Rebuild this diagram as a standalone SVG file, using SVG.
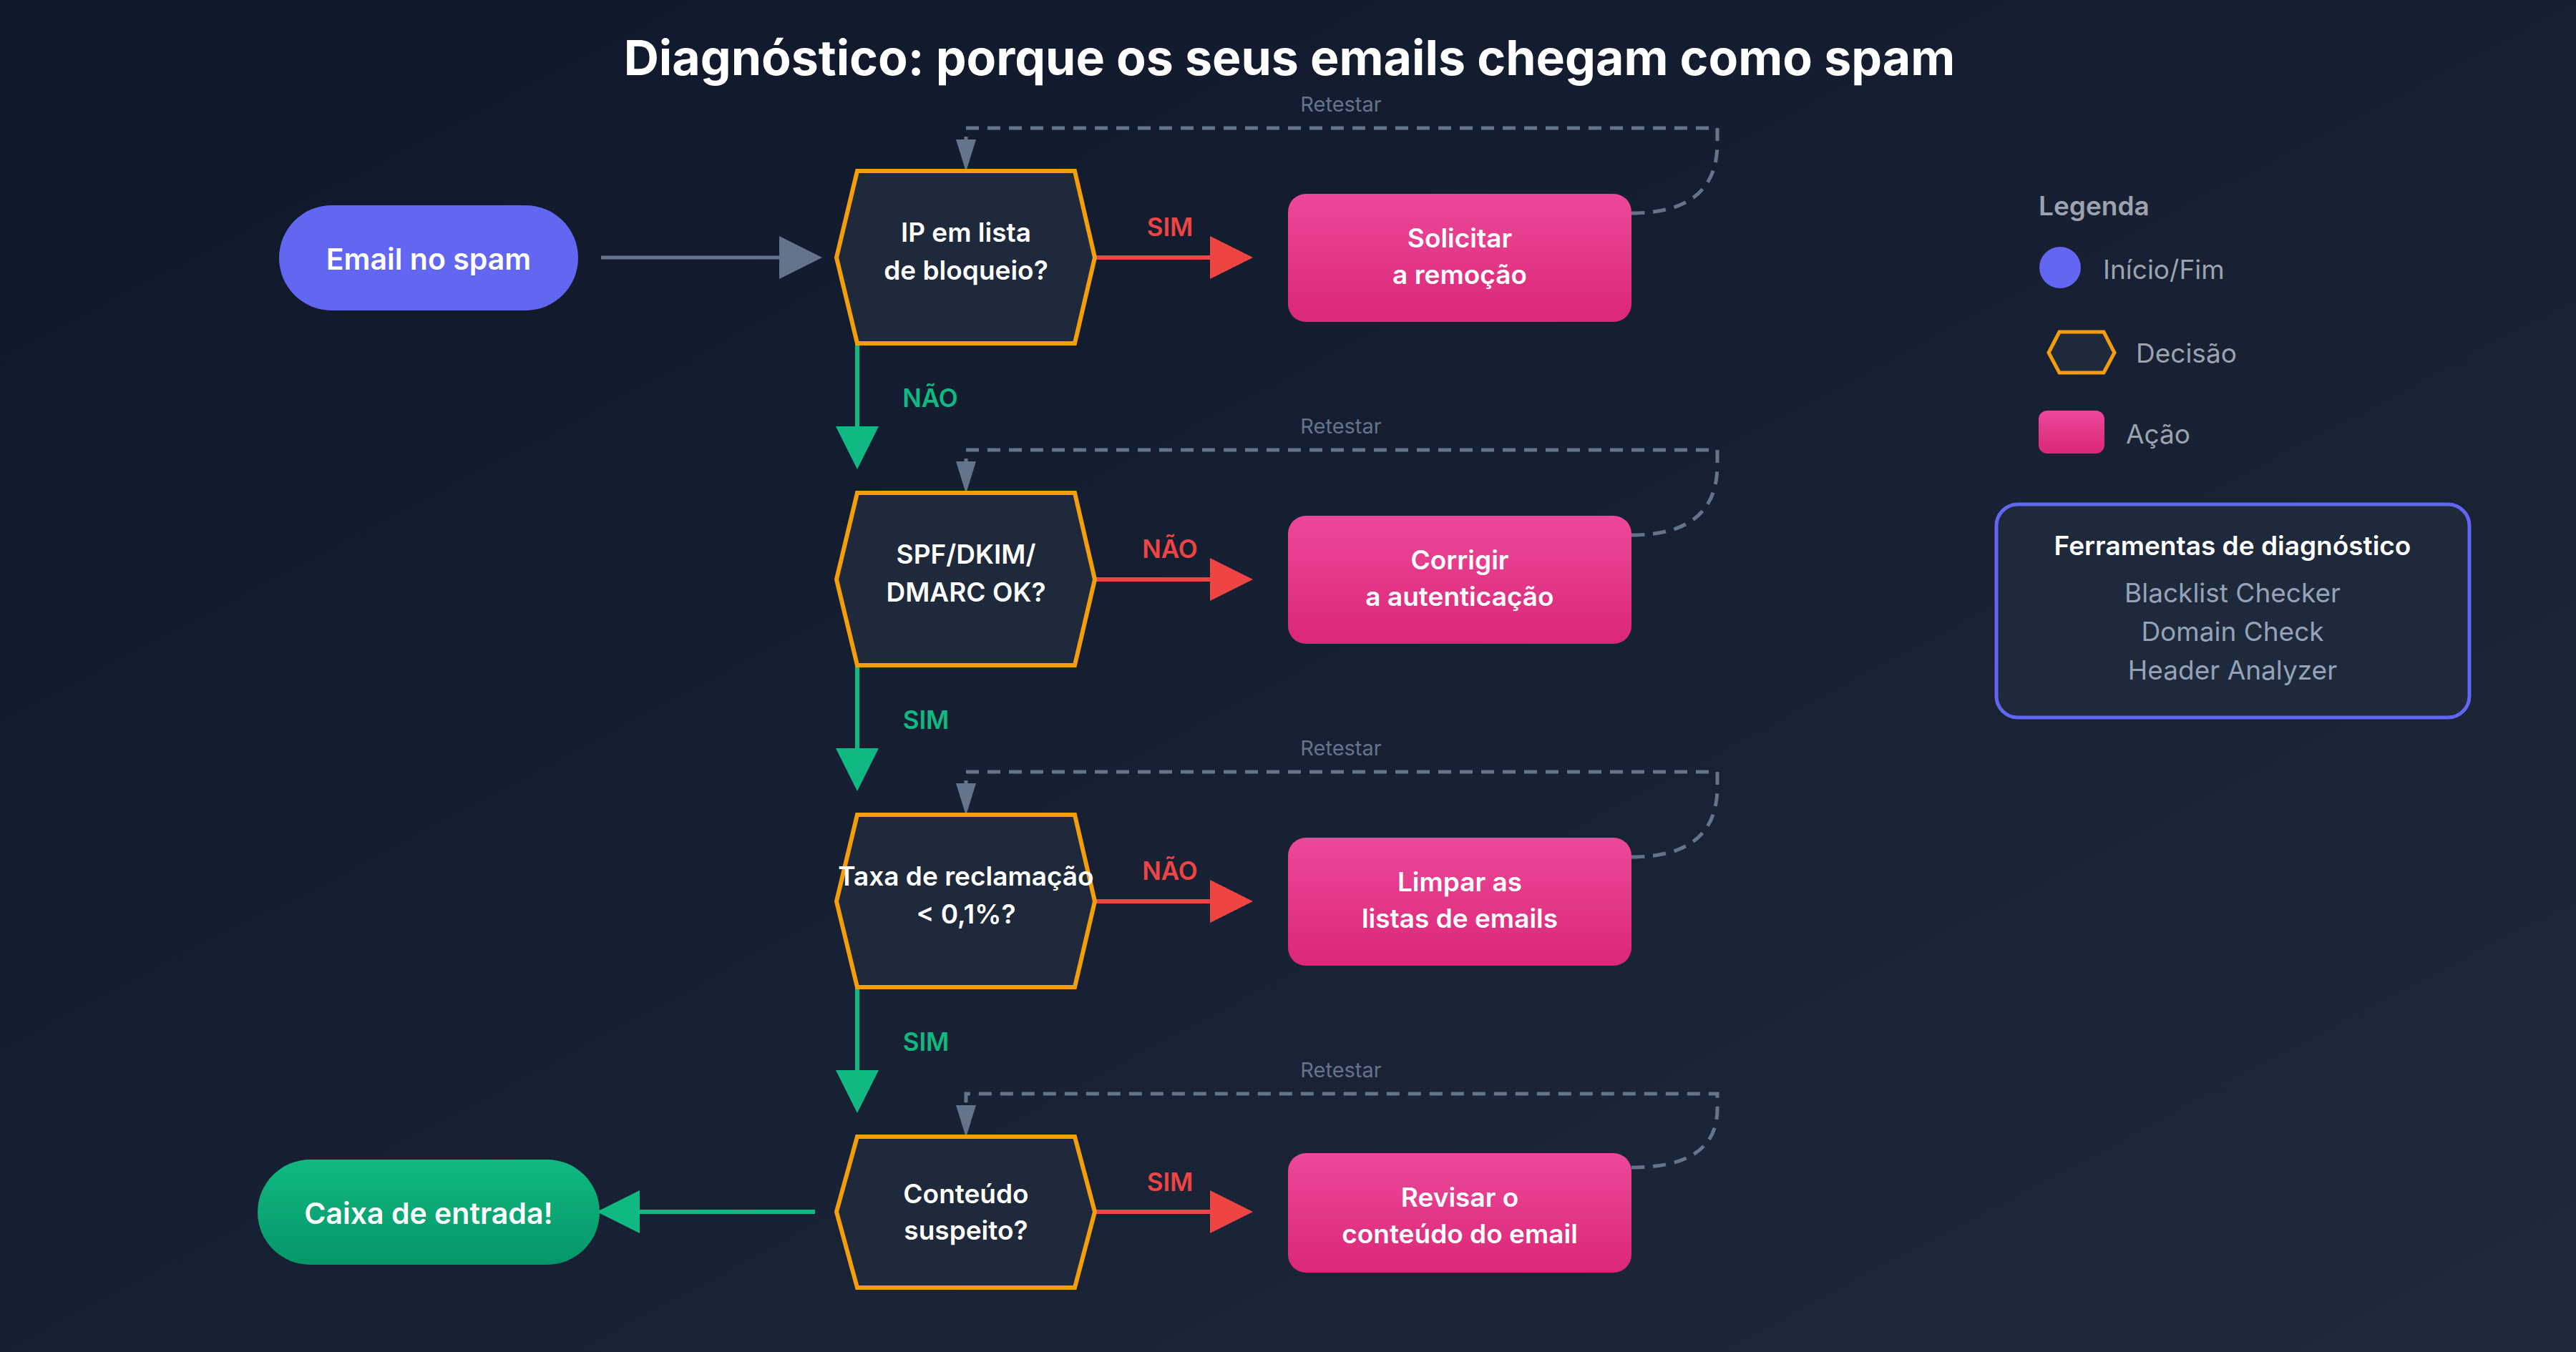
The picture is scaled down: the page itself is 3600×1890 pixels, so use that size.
<svg xmlns="http://www.w3.org/2000/svg" width="3600" height="1890" viewBox="0 0 3600 1890">
<defs>
<linearGradient id="bg" x1="0" y1="0" x2="1" y2="1"><stop offset="0" stop-color="#0f172a"/><stop offset="1" stop-color="#1e293b"/></linearGradient>
<linearGradient id="pink" x1="0" y1="0" x2="0" y2="1"><stop offset="0" stop-color="#ec4899"/><stop offset="1" stop-color="#db2777"/></linearGradient>
<linearGradient id="green" x1="0" y1="0" x2="0" y2="1"><stop offset="0" stop-color="#10b981"/><stop offset="1" stop-color="#059669"/></linearGradient>
<marker id="aGray" viewBox="0 0 10 10" refX="9" refY="5" markerWidth="6" markerHeight="6" markerUnits="userSpaceOnUse" orient="auto"><path d="M0,0 L10,5 L0,10 z" fill="#64748b"/></marker>
<marker id="aRed" viewBox="0 0 10 10" refX="9" refY="5" markerWidth="60" markerHeight="60" markerUnits="userSpaceOnUse" orient="auto"><path d="M0,0 L10,5 L0,10 z" fill="#ef4444"/></marker>
<marker id="aGreen" viewBox="0 0 10 10" refX="9" refY="5" markerWidth="60" markerHeight="60" markerUnits="userSpaceOnUse" orient="auto"><path d="M0,0 L10,5 L0,10 z" fill="#10b981"/></marker>
<marker id="aG2" viewBox="0 0 10 10" refX="9" refY="5" markerWidth="60" markerHeight="60" markerUnits="userSpaceOnUse" orient="auto"><path d="M0,0 L10,5 L0,10 z" fill="#64748b"/></marker>
</defs>
<style>
text{font-family:Inter,"Liberation Sans",sans-serif;text-anchor:middle;dominant-baseline:central}
.t{fill:#fff;font-weight:600;font-size:37px}
.hex{fill:#1e293b;stroke:#f59e0b;stroke-width:6}
.act{fill:url(#pink)}
.lr{fill:#ef4444;font-weight:600;font-size:35px}
.lg{fill:#10b981;font-weight:600;font-size:35px}
.rt{fill:#64748b;font-size:29px}
.dash{fill:none;stroke:#64748b;stroke-width:5;stroke-dasharray:18 12}
.leg{fill:#9ca3af;font-size:37px;text-anchor:start}
</style>
<rect width="3600" height="1890" fill="url(#bg)"/>
<text x="1802" y="80" style="fill:#fff;font-weight:700;font-size:68px">Diagnóstico: porque os seus emails chegam como spam</text>

<g id="connectors">
<line x1="840" y1="360" x2="1143" y2="360" stroke="#64748b" stroke-width="5" marker-end="url(#aG2)"/>
<g stroke="#ef4444" stroke-width="6">
<line x1="1530" y1="360" x2="1745" y2="360" marker-end="url(#aRed)"/>
<line x1="1530" y1="810" x2="1745" y2="810" marker-end="url(#aRed)"/>
<line x1="1530" y1="1260" x2="1745" y2="1260" marker-end="url(#aRed)"/>
<line x1="1530" y1="1694" x2="1745" y2="1694" marker-end="url(#aRed)"/>
</g>
<g stroke="#10b981" stroke-width="6">
<line x1="1198" y1="480" x2="1198" y2="650" marker-end="url(#aGreen)"/>
<line x1="1198" y1="930" x2="1198" y2="1100" marker-end="url(#aGreen)"/>
<line x1="1198" y1="1380" x2="1198" y2="1550" marker-end="url(#aGreen)"/>
<line x1="1139" y1="1694" x2="840" y2="1694" marker-end="url(#aGreen)"/>
</g>
<path class="dash" d="M2280 298 Q2400 298 2400 200 L2400 179 L1350 179 L1350 215"/>
<path class="dash" d="M2280 748 Q2400 748 2400 650 L2400 629 L1350 629 L1350 665"/>
<path class="dash" d="M2280 1198 Q2400 1198 2400 1100 L2400 1079 L1350 1079 L1350 1115"/>
<path class="dash" d="M2280 1632 Q2400 1632 2400 1550 L2400 1529 L1350 1529 L1350 1565"/>
<g fill="#64748b">
<path d="M1336 195 L1364 195 L1350 240 z"/>
<path d="M1336 645 L1364 645 L1350 690 z"/>
<path d="M1336 1095 L1364 1095 L1350 1140 z"/>
<path d="M1336 1545 L1364 1545 L1350 1590 z"/>
</g>
<text class="rt" x="1874" y="145">Retestar</text>
<text class="rt" x="1874" y="595">Retestar</text>
<text class="rt" x="1874" y="1045">Retestar</text>
<text class="rt" x="1874" y="1495">Retestar</text>
<text class="lr" x="1635" y="317">SIM</text>
<text class="lr" x="1635" y="767">NÃO</text>
<text class="lr" x="1635" y="1217">NÃO</text>
<text class="lr" x="1635" y="1652">SIM</text>
<text class="lg" x="1300" y="556">NÃO</text>
<text class="lg" x="1294" y="1006">SIM</text>
<text class="lg" x="1294" y="1456">SIM</text>
</g>

<g id="start"><rect x="390" y="287" width="418" height="147" rx="73.5" fill="#6366f1"/><text class="t" x="599" y="362" style="font-size:41px">Email no spam</text></g>
<g id="end"><rect x="360" y="1621" width="478" height="147" rx="73.5" fill="url(#green)"/><text class="t" x="599" y="1696" style="font-size:41px">Caixa de entrada!</text></g>

<g id="d1"><polygon class="hex" points="1169,360 1198,239 1502,239 1530,360 1502,480 1198,480"/><text class="t" x="1350" y="324">IP em lista</text><text class="t" x="1350" y="377">de bloqueio?</text></g>
<g id="d2"><polygon class="hex" points="1169,810 1198,689 1502,689 1530,810 1502,930 1198,930"/><text class="t" x="1350" y="774">SPF/DKIM/</text><text class="t" x="1350" y="827">DMARC OK?</text></g>
<g id="d3"><polygon class="hex" points="1169,1260 1198,1139 1502,1139 1530,1260 1502,1380 1198,1380"/><text class="t" x="1350" y="1224">Taxa de reclamação</text><text class="t" x="1350" y="1277">&lt; 0,1%?</text></g>
<g id="d4"><polygon class="hex" points="1169,1694 1198,1589 1502,1589 1530,1694 1502,1800 1198,1800"/><text class="t" x="1350" y="1668">Conteúdo</text><text class="t" x="1350" y="1719">suspeito?</text></g>

<g id="a1"><rect class="act" x="1800" y="271" width="480" height="179" rx="25"/><text class="t" x="2040" y="332">Solicitar</text><text class="t" x="2040" y="383">a remoção</text></g>
<g id="a2"><rect class="act" x="1800" y="721" width="480" height="179" rx="25"/><text class="t" x="2040" y="782">Corrigir</text><text class="t" x="2040" y="833">a autenticação</text></g>
<g id="a3"><rect class="act" x="1800" y="1171" width="480" height="179" rx="25"/><text class="t" x="2040" y="1232">Limpar as</text><text class="t" x="2040" y="1283">listas de emails</text></g>
<g id="a4"><rect class="act" x="1800" y="1612" width="480" height="167" rx="25"/><text class="t" x="2040" y="1673">Revisar o</text><text class="t" x="2040" y="1724">conteúdo do email</text></g>

<g id="legend">
<text class="leg" x="2849" y="287" style="font-weight:600">Legenda</text>
<circle cx="2879" cy="374" r="29" fill="#6366f1"/>
<text class="leg" x="2939" y="376">Início/Fim</text>
<polygon points="2863,493 2878,464 2940,464 2955,493 2940,521 2878,521" fill="#1e293b" stroke="#f59e0b" stroke-width="5"/>
<text class="leg" x="2985" y="493">Decisão</text>
<rect x="2849" y="574" width="92" height="60" rx="12" fill="url(#pink)"/>
<text class="leg" x="2971" y="606">Ação</text>
</g>
<g id="tools">
<rect x="2790" y="705" width="661" height="298" rx="30" fill="#1e293b" stroke="#6366f1" stroke-width="5"/>
<text x="3120" y="762" style="fill:#fff;font-weight:600;font-size:37px">Ferramentas de diagnóstico</text>
<text x="3120" y="828" style="fill:#94a3b8;font-size:37px">Blacklist Checker</text>
<text x="3120" y="882" style="fill:#94a3b8;font-size:37px">Domain Check</text>
<text x="3120" y="936" style="fill:#94a3b8;font-size:37px">Header Analyzer</text>
</g>
</svg>
